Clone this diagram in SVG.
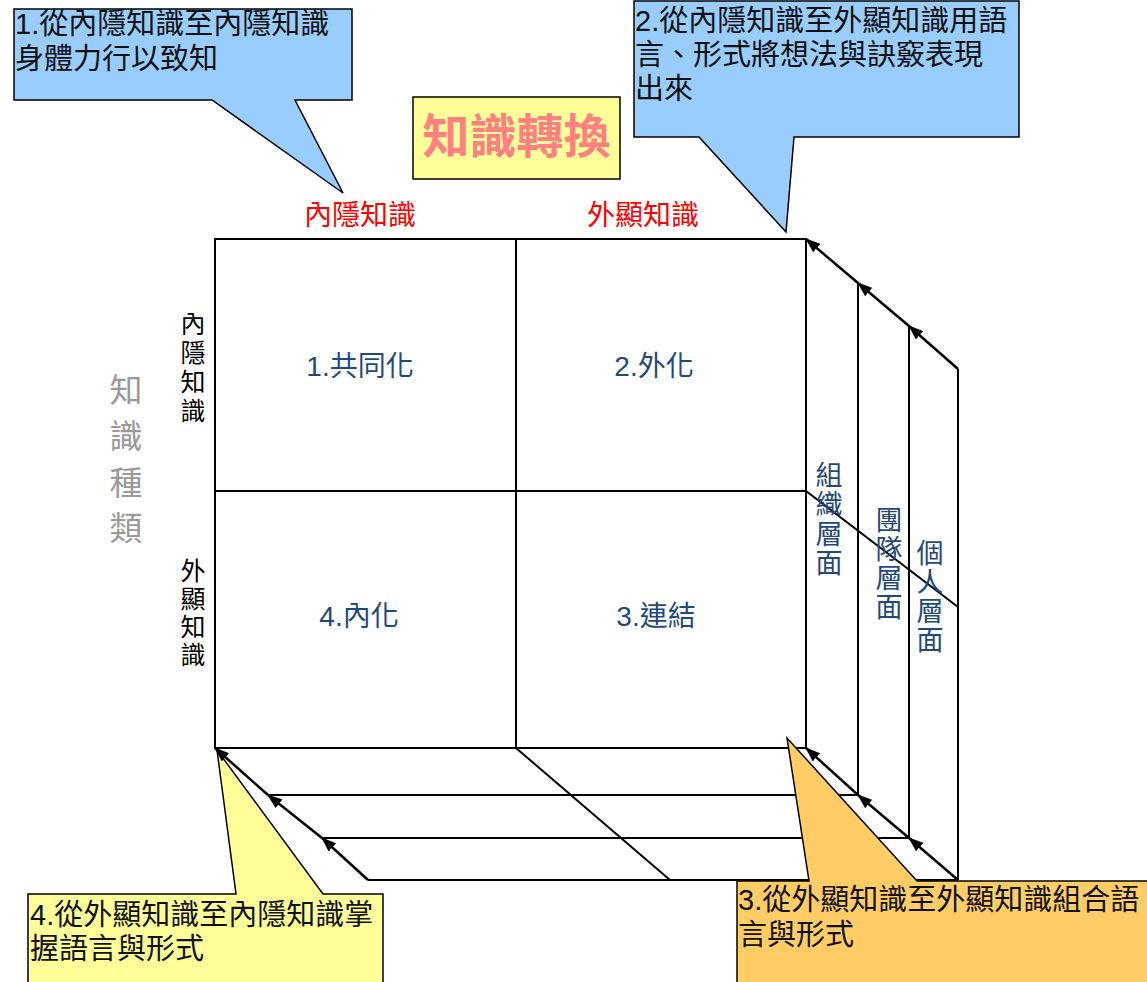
<svg xmlns="http://www.w3.org/2000/svg" width="1147" height="982" viewBox="0 0 1147 982">
<defs>
<style>
text{font-family:"Liberation Sans","Noto Sans CJK TC","Noto Sans CJK SC",sans-serif;}
.ln{stroke:#000;stroke-width:2;fill:none;}
.ar{stroke:#000;stroke-width:2.5;fill:none;}
.co{stroke:#000;stroke-width:1.5;}
.ct{font-size:29px;fill:#111;}
.cell{font-size:28px;fill:#1F497D;text-anchor:middle;}
.red{font-size:28px;fill:#FF0000;text-anchor:middle;}
.vl{font-size:25px;fill:#000;text-anchor:middle;}
.vb{font-size:27px;fill:#1F497D;text-anchor:middle;}
.vg{font-size:33px;fill:#999999;text-anchor:middle;}
</style>
<marker id="ah" markerUnits="userSpaceOnUse" markerWidth="15" markerHeight="11" refX="14" refY="5.5" orient="auto">
<path d="M0,0 L15,5.5 L0,11 z" fill="#000"/>
</marker>
</defs>
<rect width="1147" height="982" fill="#fff"/>

<g id="callout4">
<polygon class="co" fill="#FFFF99" points="28,894 236,894 217,750 323,894 383,894 383,990 28,990"/>
<text class="ct" x="30" y="925">4.從外顯知識至內隱知識掌</text>
<text class="ct" x="30" y="959">握語言與形式</text>
</g>

<g id="matrix">
<rect class="ln" x="215" y="239" width="591" height="509"/>
<line class="ln" x1="516" y1="239" x2="516" y2="748"/>
<line class="ln" x1="215" y1="491" x2="806" y2="491"/>
</g>

<g id="connectors">
<line class="ln" x1="858" y1="283" x2="858" y2="795"/>
<line class="ln" x1="909" y1="326" x2="909" y2="838"/>
<line class="ln" x1="958" y1="369" x2="958" y2="880"/>
<line class="ln" x1="268" y1="795" x2="858" y2="795"/>
<line class="ln" x1="322" y1="838" x2="909" y2="838"/>
<line class="ln" x1="368" y1="880" x2="958" y2="880"/>
<line class="ln" x1="516" y1="748" x2="670" y2="880"/>
<line class="ln" x1="806" y1="491" x2="958" y2="607"/>
<line class="ar" x1="958" y1="369" x2="909" y2="326" marker-end="url(#ah)"/>
<line class="ar" x1="909" y1="326" x2="858" y2="283" marker-end="url(#ah)"/>
<line class="ar" x1="858" y1="283" x2="806" y2="239" marker-end="url(#ah)"/>
<line class="ar" x1="958" y1="880" x2="909" y2="838" marker-end="url(#ah)"/>
<line class="ar" x1="909" y1="838" x2="858" y2="795" marker-end="url(#ah)"/>
<line class="ar" x1="858" y1="795" x2="806" y2="748" marker-end="url(#ah)"/>
<line class="ar" x1="368" y1="880" x2="322" y2="838" marker-end="url(#ah)"/>
<line class="ar" x1="322" y1="838" x2="268" y2="795" marker-end="url(#ah)"/>
<line class="ar" x1="268" y1="795" x2="215" y2="748" marker-end="url(#ah)"/>
</g>

<g id="cells">
<text class="cell" x="360" y="376">1.共同化</text>
<text class="cell" x="654" y="376">2.外化</text>
<text class="cell" x="359" y="626">4.內化</text>
<text class="cell" x="656" y="626">3.連結</text>
</g>

<g id="col-labels">
<text class="red" x="360" y="225">內隱知識</text>
<text class="red" x="643" y="225">外顯知識</text>
</g>

<g id="row-labels">
<text class="vl"><tspan x="193" y="333">內</tspan><tspan x="193" y="362">隱</tspan><tspan x="193" y="391">知</tspan><tspan x="193" y="420">識</tspan></text>
<text class="vl"><tspan x="193" y="580">外</tspan><tspan x="193" y="608">顯</tspan><tspan x="193" y="636">知</tspan><tspan x="193" y="664">識</tspan></text>
</g>

<g id="axis-label">
<text class="vg"><tspan x="126" y="402">知</tspan><tspan x="126" y="448">識</tspan><tspan x="126" y="495">種</tspan><tspan x="126" y="540">類</tspan></text>
</g>

<g id="level-labels">
<text class="vb"><tspan x="829" y="485">組</tspan><tspan x="829" y="514">織</tspan><tspan x="829" y="544">層</tspan><tspan x="829" y="573">面</tspan></text>
<text class="vb"><tspan x="889" y="530">團</tspan><tspan x="889" y="559">隊</tspan><tspan x="889" y="588">層</tspan><tspan x="889" y="617">面</tspan></text>
<text class="vb"><tspan x="930" y="563">個</tspan><tspan x="930" y="592">人</tspan><tspan x="930" y="621">層</tspan><tspan x="930" y="650">面</tspan></text>
</g>

<g id="title">
<rect x="413" y="97" width="207" height="82" fill="#FFFF99" stroke="#000" stroke-width="1.5"/>
<text x="516.5" y="153" font-size="47" font-weight="bold" fill="#FF8080" text-anchor="middle">知識轉換</text>
</g>

<g id="callout1">
<polygon class="co" fill="#99CCFF" points="14,9 352,9 352,100 295,100 343,193 212,100 14,100"/>
<text class="ct" x="15" y="34">1.從內隱知識至內隱知識</text>
<text class="ct" x="15" y="69">身體力行以致知</text>
</g>

<g id="callout2">
<polygon class="co" fill="#99CCFF" points="634,1 1019,1 1019,137 794,137 786,232 699,137 634,137"/>
<text class="ct" x="635" y="31">2.從內隱知識至外顯知識用語</text>
<text class="ct" x="635" y="65">言、形式將想法與訣竅表現</text>
<text class="ct" x="635" y="99">出來</text>
</g>

<g id="callout3">
<polygon class="co" fill="#FFCC66" points="737,881 809,881 787,738 917,881 1150,881 1150,990 737,990"/>
<text class="ct" x="738" y="910">3.從外顯知識至外顯知識組合語</text>
<text class="ct" x="738" y="945">言與形式</text>
</g>
</svg>
